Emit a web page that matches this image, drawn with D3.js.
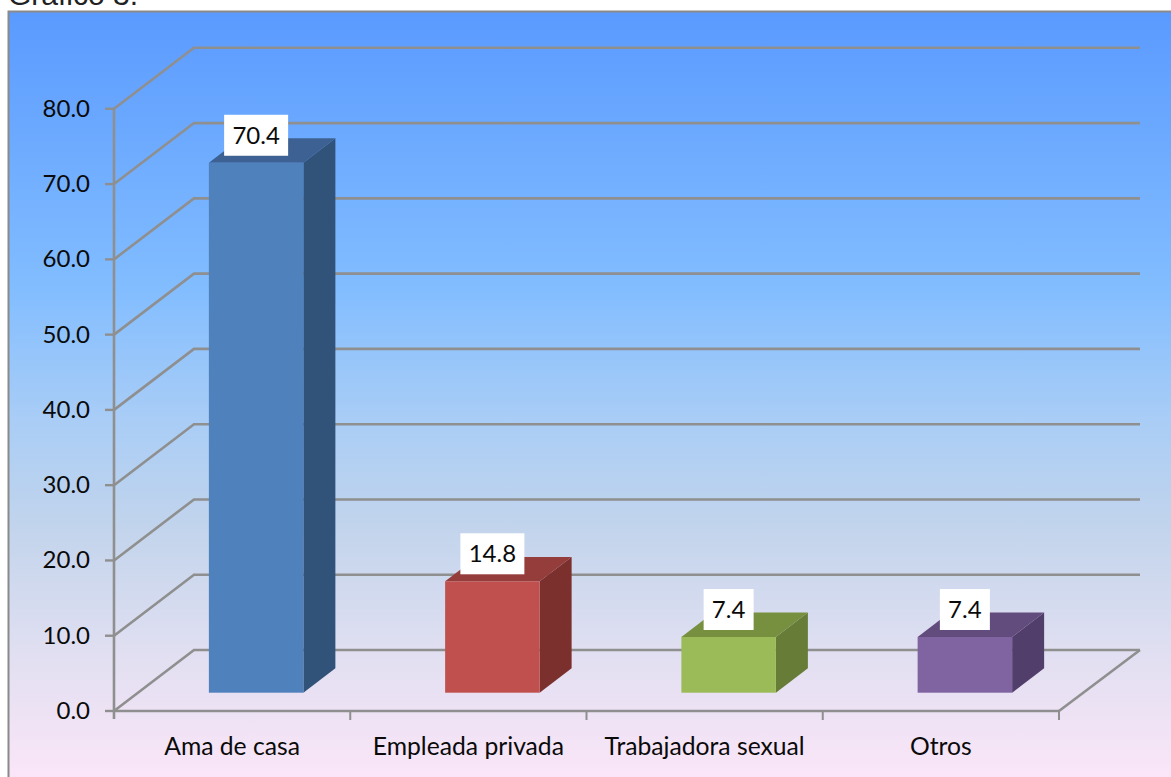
<!DOCTYPE html>
<html>
<head>
<meta charset="utf-8">
<title>Grafico 3</title>
<script src="https://d3js.org/d3.v7.min.js"></script>
<style>
    html, body { margin: 0; padding: 0; background: #fff; }
    svg { display: block; }
    .tick-label, .cat-label, .bar-label { font-family: Lato, "Open Sans", sans-serif; fill: #0a0a0a; }
    .tick-label { font-size: 24px; text-anchor: end; }
    .cat-label { font-size: 24.7px; text-anchor: middle; }
    .bar-label { font-size: 24px; text-anchor: middle; }
    .title { font-family: "Liberation Sans", sans-serif; font-size: 30px; fill: #222; }
</style>
</head>
<body>
<svg width="1171" height="777"></svg>
<script>
var categories = ["Ama de casa", "Empleada privada", "Trabajadora sexual", "Otros"];
var values = [70.4, 14.8, 7.4, 7.4];
var valueLabels = ["70.4", "14.8", "7.4", "7.4"];
var tickValues = [0, 10, 20, 30, 40, 50, 60, 70, 80];
var faceColors = ["#4f81bd", "#c0504d", "#9bbb59", "#8064a2"];
var topColors = ["#3c6192", "#943d3a", "#77903f", "#624b7d"];
var sideColors = ["#315379", "#7b302e", "#667c37", "#523e6a"];

var svg = d3.select("svg");

// plot box
var plotLeft = 114, plotRight = 1059, plotBottom = 711, plotTop = 108.8;
var depthX = 80, depthY = -61;
var barDepth0 = 0.3, barDepth1 = 0.7;

var x = d3.scaleBand().domain(categories).range([plotLeft, plotRight]).paddingInner(0.6).paddingOuter(0.3);
var band = (plotRight - plotLeft) / categories.length;
var y = d3.scaleLinear().domain([0, 80]).range([plotBottom, plotTop]);

var defs = svg.append("defs");
var grad = defs.append("linearGradient").attr("id", "bg").attr("x1", 0).attr("x2", 0).attr("y1", 0).attr("y2", 1);
grad.append("stop").attr("offset", "0%").attr("stop-color", "#5a9aff");
grad.append("stop").attr("offset", "36%").attr("stop-color", "#82bdff");
grad.append("stop").attr("offset", "53%").attr("stop-color", "#a9cdf6");
grad.append("stop").attr("offset", "67%").attr("stop-color", "#c2d4ec");
grad.append("stop").attr("offset", "83%").attr("stop-color", "#e0dff1");
grad.append("stop").attr("offset", "100%").attr("stop-color", "#fbe6f8");

svg.append("text").attr("class", "title").attr("x", 8).attr("y", 5).text("Gráfico 3.");

svg.append("rect").attr("x", 8.5).attr("y", 11.5).attr("width", 1170).attr("height", 770)
    .attr("fill", "url(#bg)").attr("stroke", "#8a8a8a").attr("stroke-width", 2);

var lineColor = "#8f8f8f";

// gridlines: side wall then back wall
tickValues.forEach(function (t) {
    var py = y(t);
    svg.append("path")
        .attr("d", d3.line()([[plotLeft, py], [plotLeft + depthX, py + depthY], [plotRight + depthX + 1, py + depthY]]))
        .attr("fill", "none").attr("stroke", lineColor).attr("stroke-width", 2.6);
    svg.append("line").attr("x1", plotLeft - 9).attr("x2", plotLeft).attr("y1", py).attr("y2", py)
        .attr("stroke", lineColor).attr("stroke-width", 2.4);
    svg.append("text").attr("class", "tick-label").attr("x", plotLeft - 24).attr("y", py + 8).text(d3.format(".1f")(t));
});

// axes
svg.append("line").attr("x1", plotLeft).attr("x2", plotLeft).attr("y1", plotTop).attr("y2", plotBottom + 8)
    .attr("stroke", lineColor).attr("stroke-width", 2.6);
svg.append("line").attr("x1", plotLeft).attr("x2", plotRight).attr("y1", plotBottom).attr("y2", plotBottom)
    .attr("stroke", lineColor).attr("stroke-width", 2.6);
svg.append("line").attr("x1", plotRight).attr("x2", plotRight + depthX + 1).attr("y1", plotBottom).attr("y2", plotBottom + depthY)
    .attr("stroke", lineColor).attr("stroke-width", 2.6);
d3.range(1, categories.length + 1).forEach(function (i) {
    svg.append("line").attr("x1", plotLeft + i * band).attr("x2", plotLeft + i * band).attr("y1", plotBottom).attr("y2", plotBottom + 9)
        .attr("stroke", lineColor).attr("stroke-width", 2);
});

// bars
var fx = depthX * barDepth0, fy = depthY * barDepth0;
var bx = depthX * (barDepth1 - barDepth0), by = depthY * (barDepth1 - barDepth0);
var w = x.bandwidth();

categories.forEach(function (c, i) {
    var x0 = x(c) + fx, x1 = x0 + w;
    var yb = plotBottom + fy, yt = y(values[i]) + fy;
    var g = svg.append("g");
    g.append("path").attr("fill", sideColors[i])
        .attr("d", d3.line()([[x1, yb], [x1 + bx, yb + by], [x1 + bx, yt + by], [x1, yt]]) + "Z");
    g.append("path").attr("fill", topColors[i])
        .attr("d", d3.line()([[x0, yt], [x0 + bx, yt + by], [x1 + bx, yt + by], [x1, yt]]) + "Z");
    g.append("rect").attr("x", x0).attr("y", yt).attr("width", w).attr("height", yb - yt).attr("fill", faceColors[i]);

    var boxW = valueLabels[i].length > 3 ? 64 : 50;
    g.append("rect").attr("x", x0 + w / 2 - boxW / 2).attr("y", yt - 48).attr("width", boxW).attr("height", 41).attr("fill", "#fff");
    g.append("text").attr("class", "bar-label").attr("x", x0 + w / 2).attr("y", yt - 19).text(valueLabels[i]);

    svg.append("text").attr("class", "cat-label").attr("x", plotLeft + (i + 0.5) * band).attr("y", 755).text(c);
});
</script>
</body>
</html>
